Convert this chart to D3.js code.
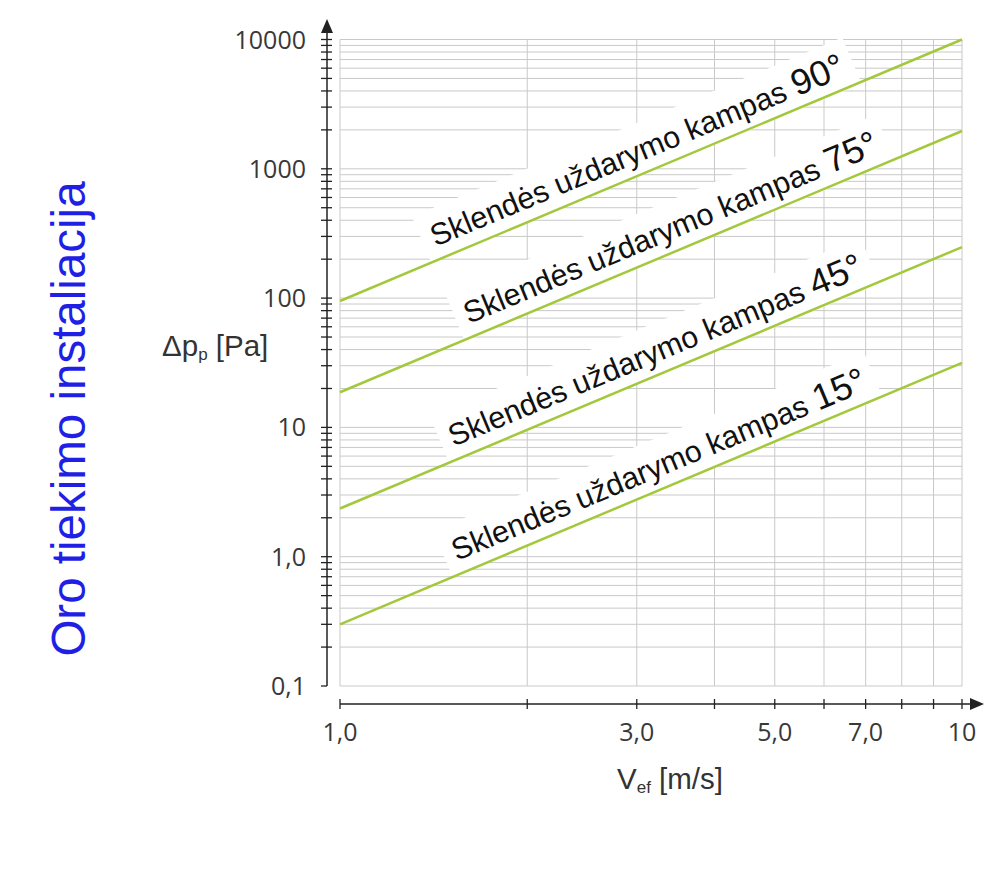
<!DOCTYPE html>
<html>
<head>
<meta charset="utf-8">
<script src="https://cdn.jsdelivr.net/npm/d3@7"></script>
<style>
  body { margin: 0; background: #fff; }
  svg { display: block; }
</style>
</head>
<body>
<script>
// velocity endpoints of the lines [m/s]
const velocities = [1, 10];
// pressure drop at v=1 and v=10, one series per damper angle [Pa]
const angles = ['90°', '75°', '45°', '15°'];
const seriesValues = [
    [95, 10000],
    [18.7, 1960],
    [2.36, 248],
    [0.3, 31.6],
];
// where along each line the label starts (velocity)
const labelAt = [1.45, 1.64, 1.55, 1.57];

const xTicks = [1, 2, 3, 4, 5, 6, 7, 8, 9, 10];
const xTickLabels = {1: '1,0', 3: '3,0', 5: '5,0', 7: '7,0', 10: '10'};
const yDecades = [0.1, 1, 10, 100, 1000, 10000];
const yTickLabels = ['0,1', '1,0', '10', '100', '1000', '10000'];

const W = 1000, H = 870;
const svg = d3.select('body').append('svg').attr('width', W).attr('height', H);

const x = d3.scaleLog().domain([1, 10]).range([340, 962]);
const y = d3.scaleLog().domain([0.1, 10000]).range([686, 39.5]);

// minor y values 1..9 per decade
const yTicks = [];
yDecades.slice(0, -1).forEach(d => {
    for (let m = 1; m <= 9; m++) yTicks.push(+(d * m).toPrecision(3));
});
yTicks.push(10000);

const gridColor = '#c9c9c9';
const lineColor = '#a3c83c';
const axisColor = '#222';
const sans = "'Liberation Sans', Arial, sans-serif";

// grid
const grid = svg.append('g');
grid.selectAll('line.h').data(yTicks).join('line')
    .attr('x1', x(1)).attr('x2', x(10))
    .attr('y1', d => y(d)).attr('y2', d => y(d))
    .attr('stroke', gridColor).attr('stroke-width', 1);
grid.selectAll('line.v').data(xTicks).join('line')
    .attr('x1', d => x(d)).attr('x2', d => x(d))
    .attr('y1', y(0.1)).attr('y2', y(10000))
    .attr('stroke', gridColor).attr('stroke-width', 1);

// y axis
const axisX = 327;
const yAxis = svg.append('g');
yAxis.append('line')
    .attr('x1', axisX).attr('x2', axisX)
    .attr('y1', y(0.1)).attr('y2', 30)
    .attr('stroke', axisColor).attr('stroke-width', 1.5);
yAxis.append('path')
    .attr('d', `M${axisX - 6},33 L${axisX},19 L${axisX + 6},33 Z`)
    .attr('fill', axisColor);
yAxis.selectAll('line.t').data(yTicks).join('line')
    .attr('x1', d => axisX - 6).attr('x2', d => d === 0.1 ? axisX : axisX + 5)
    .attr('y1', d => y(d)).attr('y2', d => y(d))
    .attr('stroke', axisColor).attr('stroke-width', 1.3);
yAxis.selectAll('text').data(yDecades).join('text')
    .attr('x', 306).attr('y', d => y(d))
    .attr('dy', '0.36em')
    .attr('text-anchor', 'end')
    .attr('font-family', 'Open Sans')
    .attr('font-size', 25)
    .attr('fill', '#383838')
    .text((d, i) => yTickLabels[i]);

// x axis
const axisY = 704;
const xAxis = svg.append('g');
xAxis.append('line')
    .attr('x1', x(1)).attr('x2', 975)
    .attr('y1', axisY).attr('y2', axisY)
    .attr('stroke', axisColor).attr('stroke-width', 1.5);
xAxis.append('path')
    .attr('d', `M970,${axisY - 6} L984,${axisY} L970,${axisY + 6} Z`)
    .attr('fill', axisColor);
xAxis.selectAll('line.t').data(xTicks).join('line')
    .attr('x1', d => x(d)).attr('x2', d => x(d))
    .attr('y1', axisY - 5).attr('y2', axisY + 5)
    .attr('stroke', axisColor).attr('stroke-width', 1.3);
xAxis.selectAll('text').data(xTicks.filter(d => xTickLabels[d])).join('text')
    .attr('x', d => x(d)).attr('y', 741)
    .attr('text-anchor', 'middle')
    .attr('font-family', 'Open Sans')
    .attr('font-size', 25)
    .attr('fill', '#383838')
    .text(d => xTickLabels[d]);

// axis titles
const xTitle = svg.append('text')
    .attr('x', 617).attr('y', 789)
    .attr('font-family', sans)
    .attr('font-size', 29.5).attr('fill', '#333');
xTitle.append('tspan').text('V');
xTitle.append('tspan').attr('font-size', 17).attr('dy', 4).text('ef');
xTitle.append('tspan').attr('dy', -4).text(' [m/s]');

const yTitle = svg.append('text')
    .attr('x', 162).attr('y', 356)
    .attr('font-family', sans)
    .attr('font-size', 29.5).attr('fill', '#333');
yTitle.append('tspan').text('Δp');
yTitle.append('tspan').attr('font-size', 17).attr('dy', 4).text('p');
yTitle.append('tspan').attr('dy', -4).text(' [Pa]');

svg.append('text')
    .attr('transform', 'translate(85,419) rotate(-90)')
    .attr('text-anchor', 'middle')
    .attr('font-family', sans)
    .attr('font-size', 47.5)
    .attr('fill', '#1f1fe6')
    .text('Oro tiekimo instaliacija');

// label placement along each line
const pxAngle = Math.atan2(y(1) - y(100), x(10) - x(1)) * 180 / Math.PI;
const labelTransform = (d, i) => {
    const v = labelAt[i];
    const t = Math.log10(v);
    const p = Math.pow(10, Math.log10(d[0]) + t * (Math.log10(d[1]) - Math.log10(d[0])));
    return `translate(${x(v)},${y(p)}) rotate(${-pxAngle})`;
};

const backLayer = svg.append('g');
const lineLayer = svg.append('g');
const textLayer = svg.append('g');

const labelTexts = textLayer.selectAll('text').data(seriesValues).join('text')
    .attr('transform', labelTransform)
    .attr('y', -13)
    .attr('font-family', sans)
    .attr('font-size', 30.5)
    .attr('fill', '#111');
labelTexts.append('tspan').text('Sklendės uždarymo kampas ');
labelTexts.append('tspan').attr('font-size', 36).text((d, i) => angles[i]);

// white backing under each label, down to the line
labelTexts.each(function (d, i) {
    const bb = this.getBBox();
    backLayer.append('rect')
        .attr('transform', labelTransform(d, i))
        .attr('x', bb.x - 10).attr('y', bb.y - 4)
        .attr('width', bb.width + 20).attr('height', -bb.y + 4)
        .attr('fill', '#fff');
});

// lines
const line = d3.line().x(d => x(d[0])).y(d => y(d[1]));
lineLayer.selectAll('path').data(seriesValues).join('path')
    .attr('d', d => line(velocities.map((v, i) => [v, d[i]])))
    .attr('fill', 'none')
    .attr('stroke', lineColor)
    .attr('stroke-width', 2.5);
</script>
</body>
</html>
